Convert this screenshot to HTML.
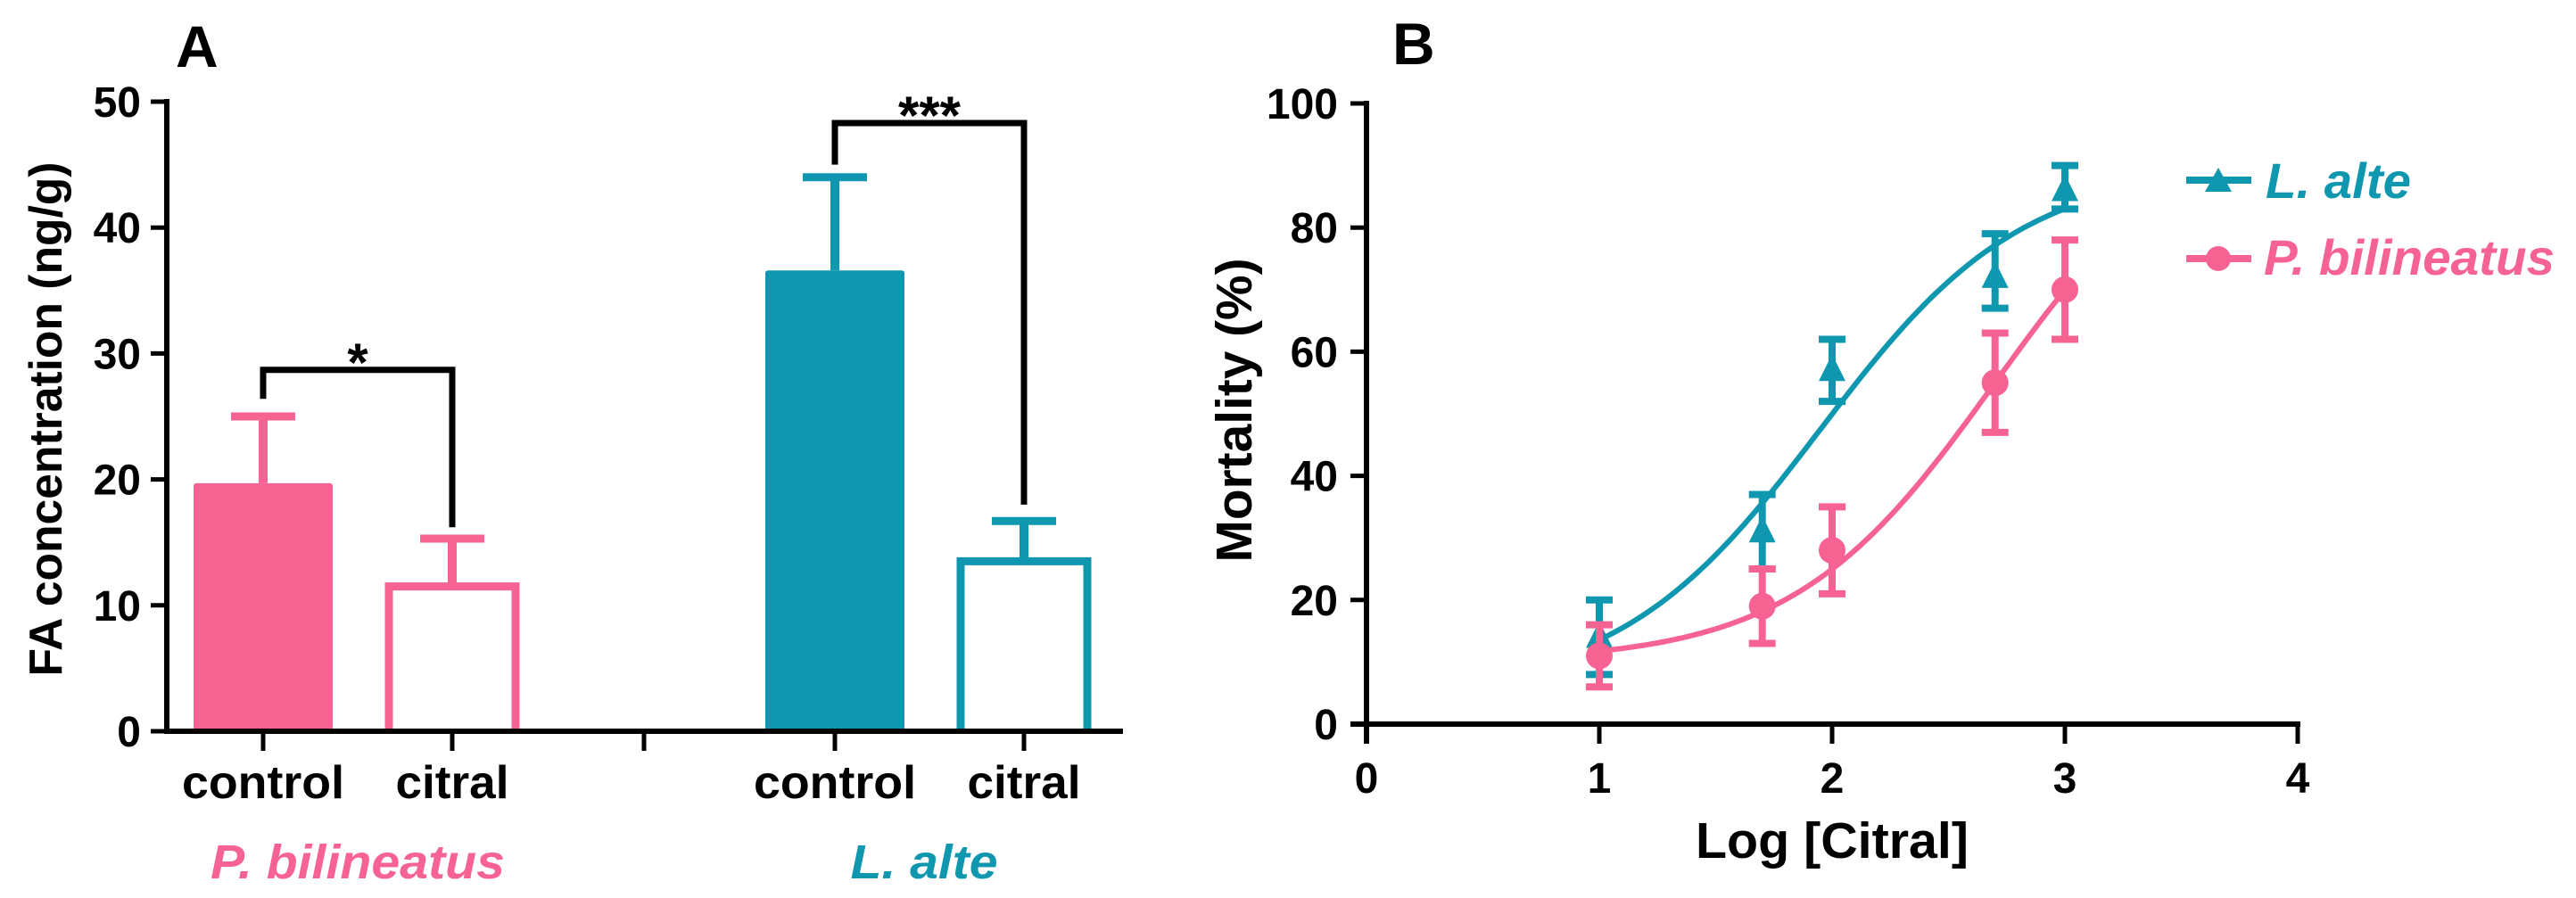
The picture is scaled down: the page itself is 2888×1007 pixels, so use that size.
<!DOCTYPE html>
<html><head><meta charset="utf-8"><style>
html,body{margin:0;padding:0;background:#fff;}
svg{display:block;font-family:"Liberation Sans",Arial,sans-serif;}
</style></head><body>
<svg id="fig" width="2888" height="1007" viewBox="0 0 2888 1007" xmlns="http://www.w3.org/2000/svg"></svg>
<script>
// ---------- Panel A data ----------
const groupsA = ["control","citral","control","citral"];
const speciesA = ["P. bilineatus","L. alte"];
const meansA = [19.7, 11.5, 36.6, 13.5];
const errsA = [25.0, 15.3, 44.0, 16.7];
const ticksA = [0,10,20,30,40,50];
const sigLabels = ["*","***"];
const sigTop = [28.7, 48.3];
const sigLeftEnd = [26.4, 45.0];
const sigRightEnd = [16.2, 18.0];
// ---------- Panel B data ----------
const xB = [1, 1.7, 2, 2.7, 3];
const lalteY = [14, 31, 57, 72, 86];
const lalteHi = [20, 37, 62, 79, 90];
const lalteLo = [8, 25, 52, 67, 83];
const pbilY = [11, 19, 28, 55, 70];
const pbilHi = [16, 25, 35, 63, 78];
const pbilLo = [6, 13, 21, 47, 62];
// 4PL fit params: bottom, top, logEC50, hill
const fitLalte = [5, 90, 1.95, 1.0];
const fitPbil = [10, 100, 2.7, 1.0];
const ticksBy = [0,20,40,60,80,100];
const ticksBx = [0,1,2,3,4];

const PINK="#F66392", TEAL="#1097B0";
const svg=document.getElementById('fig');
const NS="http://www.w3.org/2000/svg";
function mk(tag,attrs,parent){const e=document.createElementNS(NS,tag);for(const k in attrs)e.setAttribute(k,attrs[k]);(parent||svg).appendChild(e);return e;}
function txt(s,attrs,parent){const e=mk('text',attrs,parent);e.textContent=s;return e;}

// ---------- Panel A ----------
const A_x0=187, A_y0=820, A_y50=114;
const yA=v=>A_y0-(v/50)*(A_y0-A_y50);
const catX=[295,507,936,1148];
const barW=150;
const gA=mk('g',{});


const la=txt('A',{x:197,y:75,'font-size':66,'font-weight':'bold'},gA);

for(let i=0;i<meansA.length;i++){
  const col=i<2?PINK:TEAL, filled=(i%2===0);
  const cx=catX[i];
  const bg=mk('g',{},gA);
  
  
  mk('line',{x1:cx,y1:yA(meansA[i]),x2:cx,y2:yA(errsA[i]),stroke:col,'stroke-width':10},bg);
  mk('line',{x1:cx-36,y1:yA(errsA[i]),x2:cx+36,y2:yA(errsA[i]),stroke:col,'stroke-width':9},bg);
  if(filled){
    mk('rect',{x:cx-barW/2-3,y:yA(meansA[i]),width:barW+6,height:A_y0-yA(meansA[i]),fill:col,rx:3},bg);
  } else {
    mk('path',{d:`M${cx-barW/2+4},${A_y0} V${yA(meansA[i])} H${cx+barW/2-4} V${A_y0}`,fill:'none',stroke:col,'stroke-width':9},bg);
  }
}
// axes A
const axA=mk('g',{},gA);

mk('line',{x1:A_x0,y1:yA(50)-3,x2:A_x0,y2:A_y0+3,stroke:'#000','stroke-width':6},axA);
mk('line',{x1:A_x0-3,y1:A_y0,x2:1259,y2:A_y0,stroke:'#000','stroke-width':6},axA);
ticksA.forEach(t=>{
  mk('line',{x1:169,y1:yA(t),x2:A_x0,y2:yA(t),stroke:'#000','stroke-width':5},axA);
  const e=txt(String(t),{x:158,y:yA(t)+17,'font-size':48,'font-weight':'bold','text-anchor':'end'},axA);
  
});
[295,507,722,936,1148].forEach(x=>mk('line',{x1:x,y1:A_y0,x2:x,y2:A_y0+22,stroke:'#000','stroke-width':5},axA));
groupsA.forEach((g,i)=>{
  const e=txt(g,{x:catX[i],y:895,'font-size':52,'font-weight':'bold','text-anchor':'middle',textLength:g==='control'?182:127,lengthAdjust:'spacingAndGlyphs'},axA);
  
});
const sp1=txt(speciesA[0],{x:401,y:985,'font-size':54,'font-weight':'bold','font-style':'italic',fill:PINK,'text-anchor':'middle',textLength:330,lengthAdjust:'spacingAndGlyphs'},axA);

const sp2=txt(speciesA[1],{x:1036,y:985,'font-size':54,'font-weight':'bold','font-style':'italic',fill:TEAL,'text-anchor':'middle',textLength:165,lengthAdjust:'spacingAndGlyphs'},axA);

const ytA=txt('FA concentration (ng/g)',{x:0,y:0,'font-size':52,'font-weight':'bold','text-anchor':'middle',transform:'translate(69,470) rotate(-90)',textLength:577,lengthAdjust:'spacingAndGlyphs'},axA);

// significance brackets
for(let k=0;k<2;k++){
  const xl=catX[k*2], xr=catX[k*2+1];
  const sg=mk('g',{},gA);
  
  mk('path',{d:`M${xl},${yA(sigLeftEnd[k])} V${yA(sigTop[k])} H${xr} V${yA(sigRightEnd[k])}`,fill:'none',stroke:'#000','stroke-width':7},sg);
  txt(sigLabels[k],{x:(xl+xr)/2,y:yA(sigTop[k])+12,'font-size':60,'font-weight':'bold','text-anchor':'middle'},sg);
}

// ---------- Panel B ----------
const B_x0=1532, B_x4=2576, B_y0=812, B_y100=116;
const xs=v=>B_x0+(v/4)*(B_x4-B_x0);
const ys=v=>B_y0-(v/100)*(B_y0-B_y100);
const gB=mk('g',{});

const lb=txt('B',{x:1561,y:72,'font-size':66,'font-weight':'bold'},gB);

const axB=mk('g',{},gB);

mk('line',{x1:B_x0,y1:B_y100-3,x2:B_x0,y2:B_y0+22,stroke:'#000','stroke-width':6},axB);
mk('line',{x1:B_x0-18,y1:B_y0,x2:B_x4+3,y2:B_y0,stroke:'#000','stroke-width':6},axB);
ticksBy.forEach(t=>{
  mk('line',{x1:B_x0-18,y1:ys(t),x2:B_x0,y2:ys(t),stroke:'#000','stroke-width':5},axB);
  const e=txt(String(t),{x:1500,y:ys(t)+17,'font-size':48,'font-weight':'bold','text-anchor':'end'},axB);
  
});
ticksBx.forEach(t=>{
  mk('line',{x1:xs(t),y1:B_y0,x2:xs(t),y2:B_y0+22,stroke:'#000','stroke-width':5},axB);
  const e=txt(String(t),{x:xs(t),y:889,'font-size':48,'font-weight':'bold','text-anchor':'middle'},axB);
  
});
const xtB=txt('Log [Citral]',{x:xs(2),y:962,'font-size':57,'font-weight':'bold','text-anchor':'middle',textLength:306,lengthAdjust:'spacingAndGlyphs'},axB);

const ytB=txt('Mortality (%)',{x:0,y:0,'font-size':57,'font-weight':'bold','text-anchor':'middle',transform:'translate(1403,460) rotate(-90)',textLength:341,lengthAdjust:'spacingAndGlyphs'},axB);


function fit(p,x){return p[0]+(p[1]-p[0])/(1+Math.pow(10,(p[2]-x)*p[3]));}
function series(name,col,ys_,hi,lo,p,marker){
  const g=mk('g',{},gB);
  
  let d='';
  for(let i=0;i<=100;i++){const x=xB[0]+(xB[xB.length-1]-xB[0])*i/100;d+=(i?'L':'M')+xs(x).toFixed(1)+','+ys(fit(p,x)).toFixed(1);}
  const c=mk('path',{d,fill:'none',stroke:col,'stroke-width':6},g);
  
  for(let i=0;i<xB.length;i++){
    const x=xs(xB[i]);
    mk('line',{x1:x,y1:ys(hi[i]),x2:x,y2:ys(lo[i]),stroke:col,'stroke-width':8},g);
    mk('line',{x1:x-15,y1:ys(hi[i]),x2:x+15,y2:ys(hi[i]),stroke:col,'stroke-width':8},g);
    mk('line',{x1:x-15,y1:ys(lo[i]),x2:x+15,y2:ys(lo[i]),stroke:col,'stroke-width':8},g);
    const y=ys(ys_[i]);
    let m;
    if(marker==='tri') m=mk('path',{d:`M${x},${y-18} L${x+15},${y+12} L${x-15},${y+12} Z`,fill:col},g);
    else m=mk('circle',{cx:x,cy:y,r:15,fill:col},g);
    
  }
}
series('l-alte',TEAL,lalteY,lalteHi,lalteLo,fitLalte,'tri');
series('p-bilineatus',PINK,pbilY,pbilHi,pbilLo,fitPbil,'circle');

// legend
const lg=mk('g',{},gB);

const l1=mk('g',{},lg);

mk('line',{x1:2451,y1:202,x2:2524,y2:202,stroke:TEAL,'stroke-width':8},l1);
mk('path',{d:'M2487,188 L2502,215 L2472,215 Z',fill:TEAL},l1);
txt('L. alte',{x:2540,y:222,'font-size':56,'font-weight':'bold','font-style':'italic',fill:TEAL,textLength:163,lengthAdjust:'spacingAndGlyphs'},l1);
const l2=mk('g',{},lg);

mk('line',{x1:2451,y1:290,x2:2524,y2:290,stroke:PINK,'stroke-width':8},l2);
mk('circle',{cx:2487,cy:290,r:14,fill:PINK},l2);
txt('P. bilineatus',{x:2538,y:308,'font-size':56,'font-weight':'bold','font-style':'italic',fill:PINK,textLength:326,lengthAdjust:'spacingAndGlyphs'},l2);
</script>
</body></html>
